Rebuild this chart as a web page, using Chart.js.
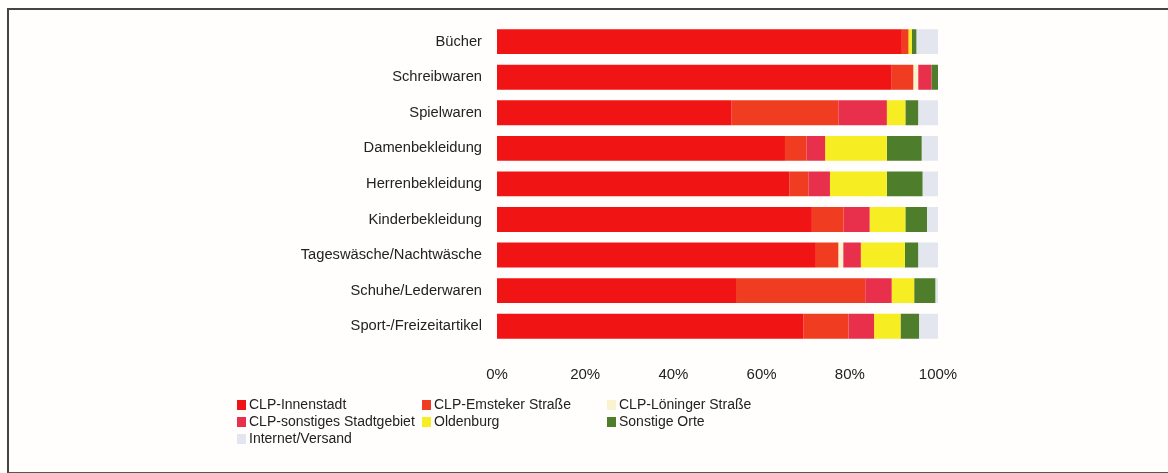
<!DOCTYPE html>
<html>
<head>
<meta charset="utf-8">
<script src="https://cdn.jsdelivr.net/npm/chart.js@4/dist/chart.umd.min.js"></script>
<style>
  html, body { margin: 0; padding: 0; background: #fffefc; }
  #wrap { position: relative; width: 1168px; height: 473px; overflow: hidden; }
  #frame { position: absolute; left: 7px; top: 8px; width: 1200px; height: 462px;
           border-left: 2px solid #444; border-top: 2px solid #444; border-bottom: 2px solid #555; }
  canvas { position: absolute; left: 0; top: 0; }
</style>
</head>
<body>
<div id="wrap">
  <div id="frame"></div>
  <canvas id="c" width="1168" height="473"></canvas>
</div>
<script>
const categories = ["Bücher", "Schreibwaren", "Spielwaren", "Damenbekleidung", "Herrenbekleidung",
  "Kinderbekleidung", "Tageswäsche/Nachtwäsche", "Schuhe/Lederwaren", "Sport-/Freizeitartikel"];

const seriesNames = ["CLP-Innenstadt", "CLP-Emsteker Straße", "CLP-Löninger Straße",
  "CLP-sonstiges Stadtgebiet", "Oldenburg", "Sonstige Orte", "Internet/Versand"];

const innenstadt   = [91.8, 89.5, 53.2, 65.3, 66.3, 71.4, 72.3, 54.2, 69.5];
const emsteker     = [1.5, 4.9, 24.2, 4.9, 4.3, 7.2, 5.1, 29.3, 10.2];
const loeninger    = [0, 1.1, 0, 0, 0, 0, 1.1, 0, 0];
const sonstigesStadt = [0, 3.0, 11.0, 4.2, 4.9, 5.9, 4.0, 6.0, 5.8];
const oldenburg    = [0.8, 0, 4.2, 14.0, 12.9, 8.1, 10.0, 5.1, 6.0];
const sonstigeOrte = [1.0, 1.5, 2.9, 7.9, 8.1, 4.9, 3.0, 4.8, 4.2];
const internet     = [4.9, 0, 4.7, 3.8, 3.6, 2.6, 4.5, 0.6, 4.4];

const xTicks = [0, 20, 40, 60, 80, 100];

const colors = ["#f01414", "#f03c20", "#fbf3cf", "#e8304c", "#f6ee22", "#4e7d2c", "#e3e6ee"];
const seriesValues = [innenstadt, emsteker, loeninger, sonstigesStadt, oldenburg, sonstigeOrte, internet];

const FONT = "'Liberation Sans', Arial, Helvetica, sans-serif";

const legendPlugin = {
  id: 'gridLegend',
  afterDraw(chart) {
    const ctx = chart.ctx;
    const cols = [237, 422, 607];
    const rows = [405, 422, 439];
    ctx.save();
    ctx.font = "14px " + FONT;
    ctx.textBaseline = 'middle';
    ctx.textAlign = 'left';
    chart.data.datasets.forEach((ds, i) => {
      const x = cols[i % 3], y = rows[Math.floor(i / 3)];
      ctx.fillStyle = ds.backgroundColor;
      ctx.fillRect(x, y - 5, 9, 10);
      ctx.fillStyle = '#222';
      ctx.fillText(ds.label, x + 12, y);
    });
    ctx.restore();
  }
};

new Chart(document.getElementById('c'), {
  type: 'bar',
  data: {
    labels: categories,
    datasets: seriesNames.map((n, i) => ({
      label: n,
      data: seriesValues[i],
      backgroundColor: colors[i],
      borderWidth: 0,
      barPercentage: 0.7,
      categoryPercentage: 1.0
    }))
  },
  options: {
    indexAxis: 'y',
    responsive: false,
    animation: false,
    layout: { padding: { top: 21, right: 230, left: 0, bottom: 0 } },
    plugins: { legend: { display: false }, tooltip: { enabled: false } },
    scales: {
      x: {
        stacked: true, min: 0, max: 100,
        afterBuildTicks(scale) { scale.ticks = xTicks.map(v => ({ value: v })); },
        afterFit(scale) { scale.height = 473 - 21 - 323; },
        grid: { display: false, drawTicks: false },
        border: { display: false },
        ticks: { padding: 22, color: '#222', font: { family: FONT, size: 15 },
                 callback: v => v + '%', maxRotation: 0 }
      },
      y: {
        stacked: true,
        afterFit(scale) { scale.width = 497; },
        grid: { display: false, drawTicks: false },
        border: { display: false },
        ticks: { padding: 15, color: '#222', font: { family: FONT, size: 14.7 } }
      }
    }
  },
  plugins: [legendPlugin]
});
</script>
</body>
</html>
